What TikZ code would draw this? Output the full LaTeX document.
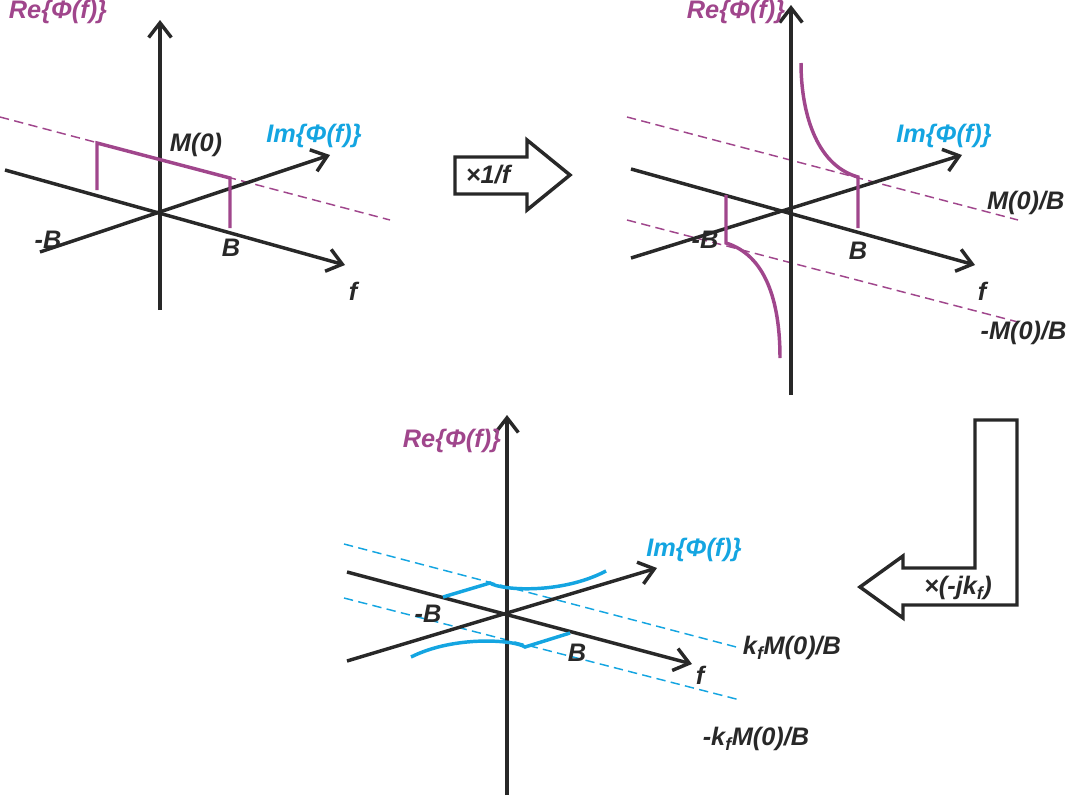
\documentclass[tikz,border=0pt]{standalone}
\usepackage{fontspec}
\setmainfont{Liberation Sans}
\usetikzlibrary{arrows.meta}
\definecolor{pur}{RGB}{160,70,140}
\definecolor{cy}{RGB}{20,165,225}
\definecolor{ax}{RGB}{40,40,40}
\begin{document}
\begin{tikzpicture}[x=0.75pt,y=-0.75pt,
 axis/.style={ax,line width=2.6pt,-{Straight Barb[length=11pt,width=17pt,line width=2.6pt]}},
 pl/.style={pur,line width=2.6pt},
 pd/.style={pur,line width=1.1pt,dash pattern=on 7pt off 4pt},
 cl/.style={cy,line width=2.6pt},
 cd/.style={cy,line width=1.1pt,dash pattern=on 7pt off 4pt},
 lab/.style={font=\fontsize{19}{21}\selectfont\bfseries\itshape,text=ax,inner sep=1pt},
 blk/.style={ax,line width=2.6pt,fill=white,line join=miter}]
\useasboundingbox (0,0) rectangle (1070,800);
% ---------- panel 1
\draw[pd] (0,117) -- (390,220);
\draw[axis] (160,310) -- (160,20);
\draw[axis] (5,170) -- (345,265);
\draw[axis] (40,252) -- (330,155);
\draw[pl] (97,190) -- (97,143) -- (230,178) -- (230,228);
\node[lab,text=pur] (re1) at (58,12) {Re\{Φ(f)\}};
\node[lab] (m0) at (196,145) {M(0)};
\node[lab,text=cy] (im1) at (314,136) {Im\{Φ(f)\}};
\node[lab] (mb1) at (48,240) {-B};
\node[lab] (b1) at (231,248) {B};
\node[lab] (f1) at (353,291) {f};
% ---------- arrow 1/f
\draw[blk] (455,157) -- (527,157) -- (527,140) -- (570,175) -- (527,210) -- (527,194) -- (455,194) -- cycle;
\node[lab] (a1) at (488,175) {×1/f};
% ---------- panel 2
\draw[pd] (627,117) -- (1018,220);
\draw[pd] (627,220) -- (1018,322);
\draw[axis] (791,395) -- (791,5);
\draw[axis] (631,169) -- (975,265);
\draw[axis] (631,258) -- (962,155);
\draw[pl] (726,195) -- (726,243) .. controls (765,255) and (780,300) .. (780,358);
\draw[pl] (858,228) -- (858,177) .. controls (815,165) and (801,110) .. (801,63);
\node[lab,text=pur] (re2) at (736,12) {Re\{Φ(f)\}};
\node[lab,text=cy] (im2) at (944,136) {Im\{Φ(f)\}};
\node[lab] (mb2) at (705,240) {-B};
\node[lab] (b2) at (858,251) {B};
\node[lab] (f2) at (982,291) {f};
\node[lab,anchor=east] (mp) at (1066,203) {M(0)/B};
\node[lab,anchor=east] (mm) at (1068,333) {-M(0)/B};
% ---------- L arrow
\draw[blk] (975,420) -- (1017,420) -- (1017,605) -- (903,605) -- (903,618) -- (860,587) -- (903,556) -- (903,568) -- (975,568) -- cycle;
\node[lab] (a2) at (958,588) {×(-jk\textsubscript{f})};
% ---------- panel 3
\draw[cd] (344,544) -- (740,648);
\draw[cd] (344,598) -- (740,700);
\draw[axis] (507,795) -- (507,415);
\draw[axis] (347,572) -- (692,664);
\draw[axis] (347,661) -- (657,568);
\draw[cl] (443,597) -- (490,583) .. controls (500,590) and (560,595) .. (606,571);
\draw[cl] (570,633) -- (525,647) .. controls (515,640) and (455,635) .. (411,657);
\node[lab,text=pur] (re3) at (452,441) {Re\{Φ(f)\}};
\node[lab,text=cy] (im3) at (694,550) {Im\{Φ(f)\}};
\node[lab] (mb3) at (428,614) {-B};
\node[lab] (b3) at (577,653) {B};
\node[lab] (f3) at (700,675) {f};
\node[lab] (kp) at (792,648) {k\textsubscript{f}M(0)/B};
\node[lab] (km) at (756,739) {-k\textsubscript{f}M(0)/B};
\end{tikzpicture}
\end{document}
